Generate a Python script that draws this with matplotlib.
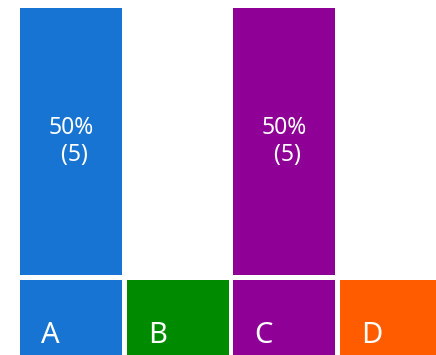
import matplotlib
matplotlib.use("Agg")
import matplotlib.pyplot as plt

categories = ["A", "B", "C", "D"]
percents = [50, 0, 50, 0]
counts = [5, 0, 5, 0]
colors = ["#1874D2", "#008A00", "#8E0096", "#FF5C00"]

plt.rcParams["font.family"] = ["Noto Sans", "DejaVu Sans"]

W, H = 436, 355
fig = plt.figure(figsize=(W / 100, H / 100), dpi=100)

pitch = 106.67
left = 20
ax_w = pitch * len(categories)
bw = 102 / pitch

# bar axes
ax = fig.add_axes([left / W, (H - 275) / H, ax_w / W, 267 / H])
xs = list(range(len(categories)))
ax.bar(xs, percents, width=bw, align="edge", color=colors)
ax.set_xlim(0, len(categories))
ax.set_ylim(0, max(percents))
ax.axis("off")
for x, p, c in zip(xs, percents, counts):
    if p > 0:
        ax.text(x + bw / 2, p / 2, f"{p}%\n ({c})", ha="center", va="center",
                color="white", fontsize=16.5, linespacing=1.2)

# tile axes
tx = fig.add_axes([left / W, 0, ax_w / W, 75 / H])
tx.bar(xs, [1] * len(xs), width=bw, align="edge", color=colors)
tx.set_xlim(0, len(categories))
tx.set_ylim(0, 1)
tx.axis("off")
for x, cat in zip(xs, categories):
    tx.text(x + 21 / pitch, 0.16, cat, ha="left", va="baseline",
            color="white", fontsize=21)

fig.savefig("out.png", dpi=100)
